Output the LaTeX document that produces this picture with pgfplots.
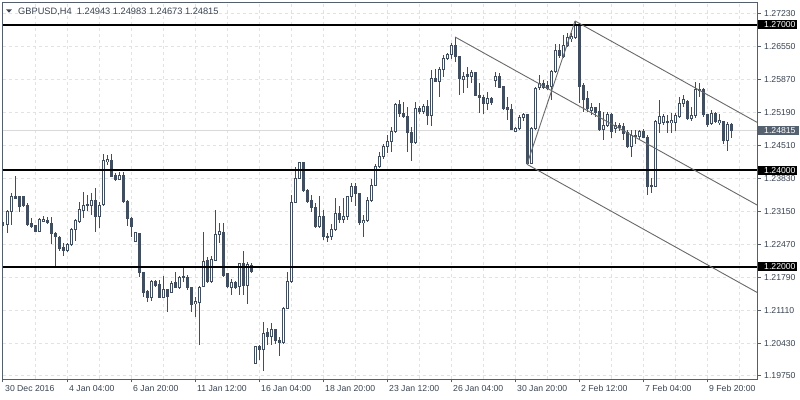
\documentclass[border=0pt]{standalone}
\usepackage{fontspec}
\setmainfont{Liberation Sans}
\usepackage{pgfplots}
\usepackage{pgfplotstable}
\pgfplotsset{compat=1.18}
\definecolor{cndl}{RGB}{64,78,96}
\definecolor{frm}{RGB}{84,94,108}
\definecolor{lbl}{RGB}{58,68,82}
\definecolor{grd}{RGB}{226,226,226}
\definecolor{bidbox}{RGB}{86,97,111}
\definecolor{trend}{RGB}{105,105,105}

\pgfplotstableread{
i o h l c
0 1.2291 1.2297 1.2270 1.2285
1 1.2287 1.2318 1.2270 1.2314
2 1.2314 1.2353 1.2287 1.2345
3 1.2346 1.2388 1.2341 1.2342
4 1.2345 1.2347 1.2314 1.2324
5 1.2345 1.2347 1.2324 1.2328
6 1.2328 1.2332 1.2285 1.2287
7 1.2289 1.2301 1.2281 1.2283
8 1.2285 1.2287 1.2274 1.2274
9 1.2274 1.2301 1.2273 1.2299
10 1.2295 1.2305 1.2293 1.2298
11 1.2297 1.2303 1.2289 1.2291
12 1.2289 1.2303 1.2247 1.2270
13 1.2270 1.2272 1.2199 1.2262
14 1.2262 1.2263 1.2232 1.2239
15 1.2240 1.2250 1.2222 1.2235
16 1.2234 1.2250 1.2230 1.2247
17 1.2246 1.2281 1.2243 1.2277
18 1.2277 1.2299 1.2253 1.2296
19 1.2294 1.2335 1.2291 1.2318
20 1.2317 1.2354 1.2301 1.2326
21 1.2326 1.2349 1.2315 1.2328
22 1.2326 1.2353 1.2307 1.2338
23 1.2338 1.2363 1.2272 1.2304
24 1.2305 1.2335 1.2281 1.2328
25 1.2328 1.2433 1.2327 1.2420
26 1.2418 1.2431 1.2411 1.2421
27 1.2420 1.2433 1.2386 1.2387
28 1.2388 1.2394 1.2377 1.2380
29 1.2380 1.2397 1.2379 1.2388
30 1.2388 1.2397 1.2332 1.2335
31 1.2335 1.2338 1.2285 1.2301
32 1.2301 1.2303 1.2263 1.2284
33 1.2252 1.2273 1.2251 1.2271
34 1.2270 1.2271 1.2180 1.2188
35 1.2188 1.2189 1.2139 1.2147
36 1.2149 1.2153 1.2127 1.2138
37 1.2138 1.2173 1.2129 1.2170
38 1.2170 1.2173 1.2159 1.2161
39 1.2163 1.2173 1.2137 1.2138
40 1.2138 1.2181 1.2136 1.2153
41 1.2153 1.2155 1.2108 1.2140
42 1.2147 1.2172 1.2146 1.2166
43 1.2168 1.2190 1.2156 1.2158
44 1.2158 1.2181 1.2154 1.2178
45 1.2179 1.2201 1.2170 1.2180
46 1.2179 1.2184 1.2153 1.2158
47 1.2158 1.2159 1.2108 1.2122
48 1.2124 1.2139 1.2097 1.2128
49 1.2126 1.2161 1.2039 1.2158
50 1.2159 1.2273 1.2158 1.2211
51 1.2213 1.2220 1.2168 1.2170
52 1.2170 1.2223 1.2168 1.2216
53 1.2214 1.2318 1.2213 1.2268
54 1.2268 1.2291 1.2249 1.2273
55 1.2271 1.2291 1.2180 1.2183
56 1.2187 1.2188 1.2156 1.2159
57 1.2158 1.2175 1.2142 1.2169
58 1.2169 1.2172 1.2154 1.2158
59 1.2159 1.2209 1.2142 1.2208
60 1.2208 1.2234 1.2142 1.2161
61 1.2161 1.2211 1.2124 1.2206
62 1.2204 1.2209 1.2188 1.2190
63 1.2001 1.2037 1.1999 1.2035
64 1.2035 1.2039 1.2008 1.2030
65 1.2030 1.2087 1.1986 1.2063
66 1.2064 1.2073 1.2039 1.2056
67 1.2056 1.2085 1.2039 1.2070
68 1.2070 1.2071 1.2042 1.2048
69 1.2048 1.2056 1.2016 1.2044
70 1.2045 1.2118 1.2042 1.2115
71 1.2115 1.2190 1.2113 1.2171
72 1.2170 1.2349 1.2167 1.2333
73 1.2333 1.2407 1.2332 1.2383
74 1.2383 1.2417 1.2381 1.2415
75 1.2415 1.2417 1.2355 1.2358
76 1.2358 1.2360 1.2333 1.2335
77 1.2338 1.2349 1.2314 1.2323
78 1.2323 1.2333 1.2280 1.2283
79 1.2283 1.2347 1.2280 1.2305
80 1.2305 1.2318 1.2256 1.2263
81 1.2264 1.2270 1.2252 1.2262
82 1.2263 1.2289 1.2256 1.2278
83 1.2278 1.2342 1.2275 1.2310
84 1.2310 1.2325 1.2290 1.2299
85 1.2299 1.2342 1.2290 1.2304
86 1.2304 1.2345 1.2297 1.2345
87 1.2345 1.2373 1.2335 1.2366
88 1.2367 1.2373 1.2325 1.2351
89 1.2351 1.2352 1.2287 1.2291
90 1.2291 1.2307 1.2262 1.2297
91 1.2297 1.2345 1.2293 1.2338
92 1.2338 1.2381 1.2335 1.2369
93 1.2369 1.2413 1.2367 1.2408
94 1.2408 1.2438 1.2404 1.2428
95 1.2428 1.2455 1.2424 1.2449
96 1.2449 1.2473 1.2435 1.2460
97 1.2460 1.2490 1.2438 1.2480
98 1.2480 1.2538 1.2476 1.2535
99 1.2535 1.2545 1.2510 1.2518
100 1.2518 1.2541 1.2507 1.2510
101 1.2510 1.2531 1.2438 1.2477
102 1.2477 1.2490 1.2418 1.2457
103 1.2457 1.2541 1.2455 1.2528
104 1.2528 1.2532 1.2517 1.2521
105 1.2521 1.2537 1.2516 1.2532
106 1.2532 1.2545 1.2493 1.2512
107 1.2512 1.2607 1.2491 1.2590
108 1.2590 1.2608 1.2581 1.2583
109 1.2583 1.2614 1.2552 1.2608
110 1.2608 1.2638 1.2593 1.2631
111 1.2631 1.2641 1.2627 1.2638
112 1.2638 1.2662 1.2629 1.2658
113 1.2658 1.2675 1.2624 1.2634
114 1.2634 1.2636 1.2555 1.2590
115 1.2588 1.2603 1.2559 1.2593
116 1.2597 1.2614 1.2569 1.2593
117 1.2593 1.2607 1.2579 1.2601
118 1.2601 1.2603 1.2553 1.2555
119 1.2555 1.2581 1.2518 1.2550
120 1.2550 1.2555 1.2517 1.2537
121 1.2537 1.2562 1.2524 1.2548
122 1.2548 1.2552 1.2534 1.2539
123 1.2585 1.2603 1.2572 1.2594
124 1.2594 1.2600 1.2569 1.2571
125 1.2572 1.2574 1.2524 1.2528
126 1.2530 1.2552 1.2504 1.2526
127 1.2526 1.2537 1.2483 1.2484
128 1.2479 1.2490 1.2478 1.2486
129 1.2486 1.2514 1.2483 1.2509
130 1.2509 1.2517 1.2501 1.2514
131 1.2515 1.2517 1.2412 1.2414
132 1.2414 1.2490 1.2412 1.2486
133 1.2486 1.2572 1.2483 1.2569
134 1.2571 1.2597 1.2566 1.2579
135 1.2579 1.2586 1.2568 1.2571
136 1.2575 1.2583 1.2566 1.2569
137 1.2572 1.2607 1.2545 1.2603
138 1.2603 1.2660 1.2600 1.2648
139 1.2648 1.2660 1.2631 1.2636
140 1.2634 1.2679 1.2631 1.2658
141 1.2658 1.2683 1.2655 1.2673
142 1.2672 1.2683 1.2665 1.2675
143 1.2673 1.2708 1.2671 1.2700
144 1.2700 1.2703 1.2538 1.2572
145 1.2574 1.2579 1.2521 1.2545
146 1.2547 1.2563 1.2521 1.2528
147 1.2523 1.2538 1.2514 1.2530
148 1.2530 1.2531 1.2510 1.2518
149 1.2521 1.2538 1.2480 1.2483
150 1.2485 1.2521 1.2462 1.2493
151 1.2493 1.2521 1.2490 1.2514
152 1.2514 1.2517 1.2466 1.2480
153 1.2486 1.2500 1.2476 1.2493
154 1.2493 1.2498 1.2480 1.2488
155 1.2491 1.2497 1.2462 1.2476
156 1.2477 1.2483 1.2445 1.2448
157 1.2448 1.2483 1.2428 1.2472
158 1.2472 1.2483 1.2455 1.2469
159 1.2469 1.2483 1.2462 1.2480
160 1.2480 1.2486 1.2466 1.2468
161 1.2468 1.2473 1.2349 1.2366
162 1.2369 1.2383 1.2353 1.2366
163 1.2366 1.2504 1.2365 1.2500
164 1.2497 1.2545 1.2476 1.2510
165 1.2498 1.2517 1.2493 1.2510
166 1.2501 1.2514 1.2477 1.2498
167 1.2498 1.2517 1.2476 1.2502
168 1.2498 1.2517 1.2480 1.2512
169 1.2510 1.2552 1.2507 1.2537
170 1.2537 1.2555 1.2531 1.2545
171 1.2541 1.2545 1.2504 1.2507
172 1.2507 1.2531 1.2502 1.2512
173 1.2512 1.2583 1.2507 1.2566
174 1.2567 1.2579 1.2552 1.2564
175 1.2566 1.2569 1.2510 1.2514
176 1.2514 1.2517 1.2490 1.2495
177 1.2497 1.2524 1.2493 1.2516
178 1.2516 1.2521 1.2497 1.2501
179 1.2498 1.2517 1.2493 1.2502
180 1.2500 1.2500 1.2455 1.2462
181 1.2462 1.2500 1.2440 1.2495
182 1.24943 1.24983 1.24673 1.24815
}\candles

\pgfplotsset{
  candlebar/.style={only marks, mark=*, mark size=0.01pt,
    mark options={draw opacity=0, fill opacity=0}, forget plot}
}

\begin{document}
\begin{tikzpicture}
\fill[white] (-2.5bp,-21bp) rectangle (797.5bp,379bp);
\begin{axis}[
  at={(0,0)}, anchor=south west, scale only axis,
  width=754.5bp, height=376.5bp,
  xmin=-0.125, xmax=188.5, ymin=1.19687, ymax=1.27461,
  axis line style={frm, line width=1bp},
  xtick={0,16,...,176},
  xticklabels={30 Dec 2016,4 Jan 04:00,6 Jan 20:00,11 Jan 12:00,16 Jan 04:00,18 Jan 20:00,23 Jan 12:00,26 Jan 04:00,30 Jan 20:00,2 Feb 12:00,7 Feb 04:00,9 Feb 20:00},
  minor xtick={8,24,...,184},
  ytick={1.1975,1.2043,1.2111,1.2179,1.2247,1.2315,1.2383,1.2451,1.2519,1.2587,1.2655,1.2723},
  yticklabels={1.19750,1.20430,1.21110,1.21790,1.22470,1.23150,1.23830,1.24510,1.25190,1.25870,1.26550,1.27230},
  scaled ticks=false,
  xtick pos=bottom, ytick pos=right, yticklabel pos=right,
  tick align=outside, major tick length=3.5bp, minor tick length=0pt,
  tick style={frm, line width=1bp},
  xmajorgrids, xminorgrids, ymajorgrids,
  major grid style={grd, dash pattern=on 3bp off 3bp, line width=1bp},
  minor grid style={grd, dash pattern=on 3bp off 3bp, line width=1bp},
  ticklabel style={font=\fontsize{8.7}{10}\selectfont, text=lbl, inner sep=0pt},
  xticklabel style={anchor=base west, xshift=2bp, yshift=-8.6bp},
  yticklabel style={anchor=west, xshift=3.5bp},
]
\addplot[gray!30, line width=1bp, forget plot] coordinates {(-0.125,1.24815) (188.5,1.24815)};
% wicks
\addplot[candlebar, error bars/.cd, y dir=both, y explicit, error mark=none,
  error bar style={cndl, line width=1bp, line cap=butt}]
  table[x=i, y expr={(\thisrow{h}+\thisrow{l})/2}, y error expr={(\thisrow{h}-\thisrow{l})/2}] {\candles};
% bodies (outline / filled)
\addplot[candlebar, error bars/.cd, y dir=both, y explicit, error mark=none,
  error bar style={cndl, line width=3bp, line cap=butt}]
  table[x=i, y expr={(\thisrow{o}+\thisrow{c})/2}, y error expr={abs(\thisrow{c}-\thisrow{o})/2+0.0001032}] {\candles};
% hollow interiors of rising candles
\addplot[candlebar, error bars/.cd, y dir=both, y explicit, error mark=none,
  error bar style={white, line width=1bp, line cap=butt}]
  table[x=i, y expr={(\thisrow{o}+\thisrow{c})/2}, y error expr={ifthenelse(\thisrow{c}>\thisrow{o}, max(abs(\thisrow{c}-\thisrow{o})/2-0.0001032,0), 0)}] {\candles};
% horizontal levels
\addplot[black, line width=2bp, forget plot] coordinates {(-0.125,1.27) (188.5,1.27)};
\addplot[black, line width=2bp, forget plot] coordinates {(-0.125,1.24) (188.5,1.24)};
\addplot[black, line width=2bp, forget plot] coordinates {(-0.125,1.22) (188.5,1.22)};
% channels
\addplot[trend, line width=0.9bp, forget plot] coordinates {(113,1.2675) (188.5,1.2328)};
\addplot[trend, line width=0.9bp, forget plot] coordinates {(131,1.2412) (188.5,1.21475)};
\addplot[trend, line width=0.9bp, forget plot] coordinates {(143,1.2708) (188.5,1.24987)};
\addplot[trend, line width=0.9bp, forget plot] coordinates {(131,1.2412) (143,1.2708)};
\coordinate (La) at (axis cs:188.5,1.27);
\coordinate (Lb) at (axis cs:188.5,1.24);
\coordinate (Lc) at (axis cs:188.5,1.22);
\coordinate (Ld) at (axis cs:188.5,1.24815);
\end{axis}
\foreach \p/\t in {La/1.27000,Lb/1.24000,Lc/1.22000}{
  \fill[black] ([xshift=1bp,yshift=-4.5bp]\p) rectangle ([xshift=40bp,yshift=4.5bp]\p);
  \node[anchor=west, inner sep=0pt, text=white, font=\fontsize{8.7}{10}\selectfont] at ([xshift=7bp]\p) {\t};
}
\fill[bidbox] ([xshift=1bp,yshift=-4.7bp]Ld) rectangle ([xshift=42bp,yshift=4.7bp]Ld);
\node[anchor=west, inner sep=0pt, text=white, font=\fontsize{8.7}{10}\selectfont] at ([xshift=7bp]Ld) {1.24815};
% title
\fill[lbl] (3.5bp,369.7bp) -- (9.5bp,369.7bp) -- (6.5bp,366.3bp) -- cycle;
\node[anchor=base west, inner sep=0pt, text=lbl, font=\fontsize{9.3}{11}\selectfont] at (15.5bp,364.3bp) {GBPUSD,H4\ \ 1.24943 1.24983 1.24673 1.24815};
\pgfresetboundingbox
\useasboundingbox (-2.5bp,-21bp) rectangle (797.5bp,379bp);
\end{tikzpicture}
\end{document}
